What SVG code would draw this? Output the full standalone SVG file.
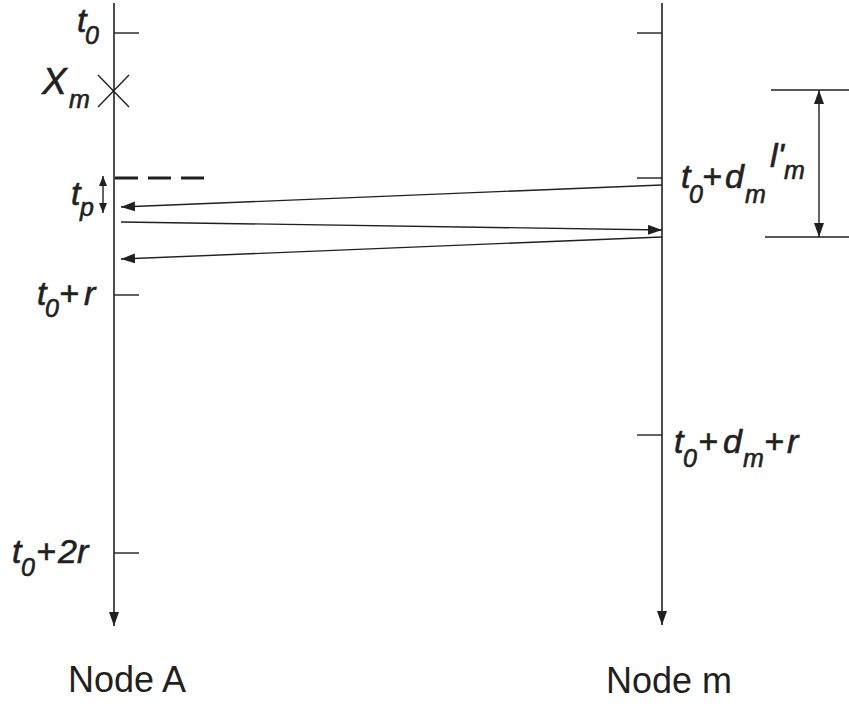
<svg xmlns="http://www.w3.org/2000/svg" width="849" height="704" viewBox="0 0 849 704">
<style>
.ln{stroke:#231f20;fill:none;stroke-width:1.6}
.tk{stroke:#231f20;fill:none;stroke-width:1.4}
.ar{stroke:#231f20;fill:none;stroke-width:1.3}
.m{font-family:"Liberation Sans",Arial,sans-serif;font-style:italic;font-size:34px;fill:#231f20;stroke:#231f20;stroke-width:0.6}
.s{font-size:25px}
.lab{font-family:"Liberation Sans",Arial,sans-serif;font-size:36px;fill:#231f20}
</style>
<defs>
<marker id="ah" viewBox="0 0 14 10" refX="14" refY="5" markerWidth="14" markerHeight="10" markerUnits="userSpaceOnUse" orient="auto-start-reverse">
<path d="M0,0 L14,5 L0,10 Z" fill="#231f20"/>
</marker>
<marker id="ahs" viewBox="0 0 10 8" refX="10" refY="4" markerWidth="10" markerHeight="8" markerUnits="userSpaceOnUse" orient="auto-start-reverse">
<path d="M0,0 L10,4 L0,8 Z" fill="#231f20"/>
</marker>
</defs>
<g id="nodeA">
<line class="ln" x1="114" y1="3" x2="114" y2="626" marker-end="url(#ah)"/>
<line class="tk" x1="114" y1="33" x2="139" y2="33"/>
<line class="tk" x1="114" y1="295" x2="139" y2="295"/>
<line class="tk" x1="114" y1="553" x2="139" y2="553"/>
<line class="tk" x1="98" y1="75" x2="129" y2="107"/>
<line class="tk" x1="98" y1="107" x2="129" y2="75"/>
<line x1="115" y1="178" x2="204" y2="178" stroke="#231f20" stroke-width="3" stroke-dasharray="23 10"/>
<line class="tk" x1="103" y1="176" x2="103" y2="213" marker-start="url(#ahs)" marker-end="url(#ahs)"/>
<text class="m" x="77" y="32">t<tspan class="s" x="85" y="44">0</tspan></text>
<text class="m" x="42" y="94" style="font-size:37px">X<tspan class="s" x="69" y="108">m</tspan></text>
<text class="m" x="71" y="205">t<tspan class="s" x="80" y="216">p</tspan></text>
<text class="m" x="37" y="305">t<tspan class="s" x="45" y="317">0</tspan><tspan x="59" y="305">+</tspan><tspan x="84" y="305">r</tspan></text>
<text class="m" x="12" y="563">t<tspan class="s" x="21" y="576">0</tspan><tspan x="36" y="563">+</tspan><tspan x="58" y="563">2</tspan><tspan x="77" y="563">r</tspan></text>
<text class="lab" x="68" y="692">Node A</text>
</g>
<g id="nodeM">
<line class="ln" x1="662" y1="3" x2="662" y2="625" marker-end="url(#ah)"/>
<line class="tk" x1="637" y1="33" x2="662" y2="33"/>
<line class="tk" x1="637" y1="178" x2="662" y2="178"/>
<line class="tk" x1="637" y1="435" x2="662" y2="435"/>
<text class="m" x="681" y="188">t<tspan class="s" x="689" y="203">0</tspan><tspan x="702" y="188">+</tspan><tspan x="725" y="188">d</tspan><tspan class="s" x="745" y="203">m</tspan></text>
<text class="m" x="674" y="453">t<tspan class="s" x="683" y="467">0</tspan><tspan x="698" y="453">+</tspan><tspan x="723" y="453">d</tspan><tspan class="s" x="743" y="467">m</tspan><tspan x="764" y="453">+</tspan><tspan x="787" y="453">r</tspan></text>
<text class="lab" x="606" y="693">Node m</text>
</g>
<g id="dimension">
<line class="tk" x1="771" y1="90" x2="849" y2="90"/>
<line class="tk" x1="765" y1="237" x2="849" y2="237"/>
<line class="tk" x1="819" y1="90" x2="819" y2="237" marker-start="url(#ah)" marker-end="url(#ah)"/>
<text class="m" x="770" y="167">l'<tspan class="s" x="784" y="179">m</tspan></text>
</g>
<g id="connectors">
<line class="ar" x1="662" y1="185" x2="121" y2="207" marker-end="url(#ah)"/>
<line class="ar" x1="121" y1="222" x2="662" y2="230" marker-end="url(#ah)"/>
<line class="ar" x1="662" y1="237" x2="121" y2="259" marker-end="url(#ah)"/>
</g>
</svg>
